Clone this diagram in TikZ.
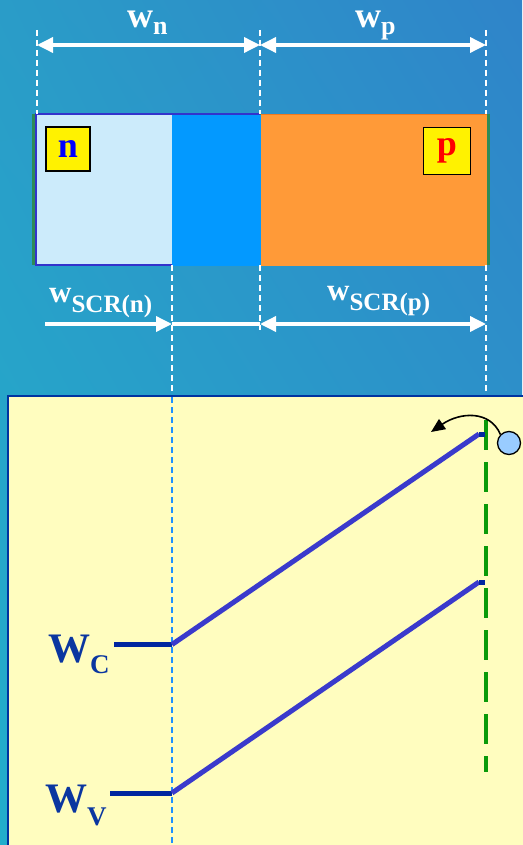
\documentclass[tikz,border=0pt]{standalone}
\usepackage{fontspec}
\setmainfont{Liberation Serif}
\usetikzlibrary{arrows.meta,shadings}
\definecolor{bgA}{HTML}{2A9CC8}
\definecolor{bgB}{HTML}{2F84C9}
\definecolor{bgC}{HTML}{22AECB}
\definecolor{nfill}{HTML}{CCEBFB}
\definecolor{nedge}{HTML}{3333CC}
\definecolor{scr}{HTML}{0399FF}
\definecolor{pfill}{HTML}{FF9A38}
\definecolor{pedge}{HTML}{F07A20}
\definecolor{gedge}{HTML}{2E8B57}
\definecolor{ybox}{HTML}{FFFDBF}
\definecolor{yedge}{HTML}{0033A0}
\definecolor{band}{HTML}{3A3ACC}
\definecolor{bandflat}{HTML}{0026A0}
\definecolor{lbl}{HTML}{0A36A0}
\definecolor{gdash}{HTML}{0A9A0A}
\definecolor{bdash}{HTML}{1E90FF}
\definecolor{ball}{HTML}{99CCFF}
\tikzset{
  guide/.style={white, line width=1.3pt, dash pattern=on 6pt off 4pt},
  dimarrow/.style={white, line width=3.5pt, {Triangle[length=16pt,width=15pt]}-{Triangle[length=16pt,width=15pt]}},
  rarrow/.style={white, line width=3.5pt, -{Triangle[length=16pt,width=15pt]}},
  plainline/.style={white, line width=3.5pt},
  wlbl/.style={white, inner sep=0pt, anchor=base west, font=\bfseries},
  tag/.style={fill=yellow, draw=black, line width=1.4pt, minimum width=44pt, minimum height=44pt, inner sep=0pt, font=\bfseries\fontsize{36}{36}\selectfont},
  bandline/.style={band, line width=5pt},
  flatline/.style={bandflat, line width=5pt},
  blbl/.style={lbl, inner sep=0pt, anchor=base west, font=\bfseries},
}
\begin{document}
\begin{tikzpicture}[x=1pt,y=-1pt]
\useasboundingbox (0,0) rectangle (522,845);
\shade[upper left=bgA, upper right=bgB, lower left=bgC, lower right=bgA] (0,0) rectangle (522,845);

% coordinates
\coordinate (tl) at (37,30); \coordinate (tlb) at (37,114);
\coordinate (tm) at (260,30); \coordinate (tmb) at (260,330);
\coordinate (tr) at (486,30); \coordinate (trb) at (486,396);
\coordinate (s1) at (172,265); \coordinate (s1b) at (172,396);

% top rectangle
\fill[gedge] (32,114) rectangle (490,265);
\fill[nfill] (36,114) rectangle (172,265);
\draw[nedge, line width=1.4pt] (172,265) -- (36,265) -- (36,114) -- (260,114);
\fill[scr] (172,114.7) rectangle (261,265.5);
\fill[pfill] (261,114) rectangle (487,265.5);
\draw[pedge, line width=1pt] (261,114.5) -- (487,114.5);

% guides
\draw[guide] (tl) -- (tlb);
\draw[guide] (tm) -- (260,114);
\draw[guide] (260,265) -- (tmb);
\draw[guide] (tr) -- (486,114);
\draw[guide] (486,265) -- (trb);
\draw[guide] (s1) -- (s1b);

% tags
\node[tag, text=blue] (ntag) at (68,149) {n};
\node[tag, text=red, minimum width=47pt, minimum height=47pt] (ptag) at (447,151) {p};

% top dimension arrows
\coordinate (a1) at (37,45); \coordinate (a2) at (260,45); \coordinate (a3) at (486,45);
\draw[dimarrow] (a1) -- (a2);
\draw[dimarrow] (a2) -- (a3);
\node[wlbl] (wn) at (127,28) {\fontsize{36}{36}\selectfont w\raisebox{-7pt}{\fontsize{26}{26}\selectfont n}};
\node[wlbl] (wp) at (355,28) {\fontsize{36}{36}\selectfont w\raisebox{-7pt}{\fontsize{26}{26}\selectfont p}};

% bottom dimension arrows
\coordinate (b0) at (45,324); \coordinate (b1) at (172,324); \coordinate (b2) at (260,324); \coordinate (b3) at (486,324);
\draw[rarrow] (b0) -- (b1);
\draw[plainline] (b1) -- (b2);
\draw[dimarrow] (b2) -- (b3);
\node[wlbl] (wsn) at (49,302) {\fontsize{31}{31}\selectfont w\raisebox{-10pt}{\fontsize{25}{25}\selectfont SCR(n)}};
\node[wlbl] (wsp) at (327,300) {\fontsize{31}{31}\selectfont w\raisebox{-10pt}{\fontsize{25}{25}\selectfont SCR(p)}};

% yellow panel
\fill[ybox] (8,396) rectangle (530,850);
\draw[yedge, line width=2.2pt] (8,850) -- (8,396) -- (530,396);
\coordinate (j1) at (172,397); \coordinate (j2) at (172,845);
\draw[bdash, line width=1.2pt, dash pattern=on 6pt off 4pt] (j1) -- (j2);
\coordinate (g1) at (486,420); \coordinate (g2) at (486,772);
\draw[gdash, line width=4pt, dash pattern=on 30pt off 12pt] (g1) -- (g2);

% bands
\coordinate (c0) at (114,644.5); \coordinate (c1) at (172,644.5); \coordinate (c2) at (479,434); \coordinate (c3) at (485,434);
\coordinate (v0) at (110,793); \coordinate (v1) at (172,793); \coordinate (v2) at (479,582); \coordinate (v3) at (485,582);
\draw[flatline] (c0) -- (c1);
\draw[bandline] (c1) -- (c2);
\draw[flatline] (c2) -- (c3);
\draw[flatline] (v0) -- (v1);
\draw[bandline] (v1) -- (v2);
\draw[flatline] (v2) -- (v3);
\node[blbl] (wc) at (48,662) {\fontsize{42}{42}\selectfont W\raisebox{-11pt}{\fontsize{27}{27}\selectfont C}};
\node[blbl] (wv) at (45,812) {\fontsize{42}{42}\selectfont W\raisebox{-13pt}{\fontsize{27}{27}\selectfont V}};

% electron
\node[circle, draw=black, fill=ball, line width=1.3pt, minimum width=23pt, minimum height=23pt, inner sep=0pt] (el) at (509,443) {};
\coordinate (tip) at (431,432);
\draw[black, line width=1.6pt, -{Triangle[length=14pt,width=12pt]}] (el.north west) .. controls (490,410) and (460,412) .. (tip);
\end{tikzpicture}
\end{document}
